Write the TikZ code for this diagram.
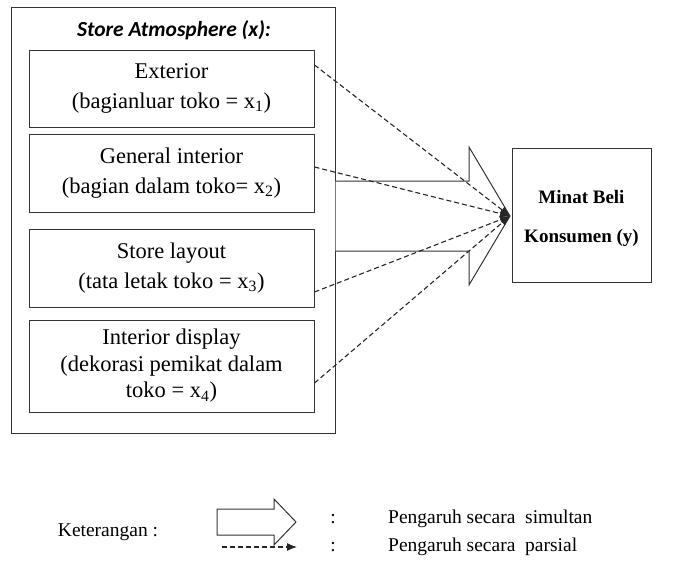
\documentclass[tikz,border=0pt]{standalone}
\usepackage{fontspec}
\setmainfont{Liberation Serif}
\newfontfamily\calib{Carlito}
\usetikzlibrary{arrows.meta}
\begin{document}
\begin{tikzpicture}[x=1pt,y=-1pt,
  line/.style={draw=black!80, line width=1pt},
  itembox/.style={line, minimum width=285pt, align=center, inner sep=0pt,
     font=\fontsize{22.5}{30}\selectfont},
  partial/.style={draw=black!85, line width=1.1pt, dash pattern=on 5pt off 3pt,
     -{Latex[length=10pt,width=8pt]}},
  hollow/.style={line, fill=white, line join=miter},
  txt/.style={font=\fontsize{19.5}{23}\selectfont, inner sep=0pt}
]
\useasboundingbox (0,0) rectangle (694,573);

% outer group box
\node[line, minimum width=324pt, minimum height=426pt, inner sep=0pt] (outer) at (173,220) {};
\node[font=\calib\bfseries\itshape\fontsize{21.5}{24}\selectfont, inner sep=0pt] (title) at (174,30) {Store Atmosphere (x):};

% item boxes
\node[itembox, minimum height=77pt] (b1) at (171.5,88.5) {Exterior\\(bagianluar toko = x\textsubscript{1})};
\node[itembox, minimum height=78pt] (b2) at (171.5,173) {General interior\\(bagian dalam toko= x\textsubscript{2})};
\node[itembox, minimum height=78pt] (b3) at (171.5,268) {Store layout\\(tata letak toko = x\textsubscript{3})};
\node[itembox, minimum height=92pt, font=\fontsize{22.5}{26.5}\selectfont] (b4) at (171.5,366) {Interior display\\(dekorasi pemikat dalam\\toko = x\textsubscript{4})};

% target box
\node[line, minimum width=139pt, minimum height=134pt, inner sep=0pt] (y) at (581.5,215) {};
\node[align=center, inner sep=0pt, font=\bfseries\fontsize{19}{39}\selectfont] (ytext) at (581.5,218) {Minat Beli\\Konsumen (y)};

% simultaneous (hollow) arrow
\coordinate (tip) at (510,216);
\draw[hollow] (outer.east |- 0,181) -- (469,181) -- (469,147) -- (tip) -- (469,285) -- (469,251) -- (outer.east |- 0,251);

% partial (dashed) arrows
\draw[partial] ([yshift=23.5pt]b1.east) -- (tip);
\draw[partial] ([yshift=6pt]b2.east) -- (tip);
\draw[partial] ([yshift=-24pt]b3.east) -- (tip);
\draw[partial] ([yshift=-17pt]b4.east) -- (tip);

% legend
\node[txt] (ket) at (108,532) {Keterangan\ :};
\coordinate (lt) at (296,522);
\draw[hollow] (217,509) -- (274,509) -- (274,499) -- (lt) -- (274,545) -- (274,535) -- (217,535) -- cycle;
\coordinate (da) at (222,547);
\coordinate (db) at (297,547);
\draw[partial] (da) -- (db);
\node[txt] (c1) at (333,519) {:};
\node[txt] (c2) at (333,547) {:};
\node[txt, anchor=west] (l1) at (388,519) {Pengaruh secara\ \ simultan};
\node[txt, anchor=west] (l2) at (388,547) {Pengaruh secara\ \ parsial};
\end{tikzpicture}
\end{document}
